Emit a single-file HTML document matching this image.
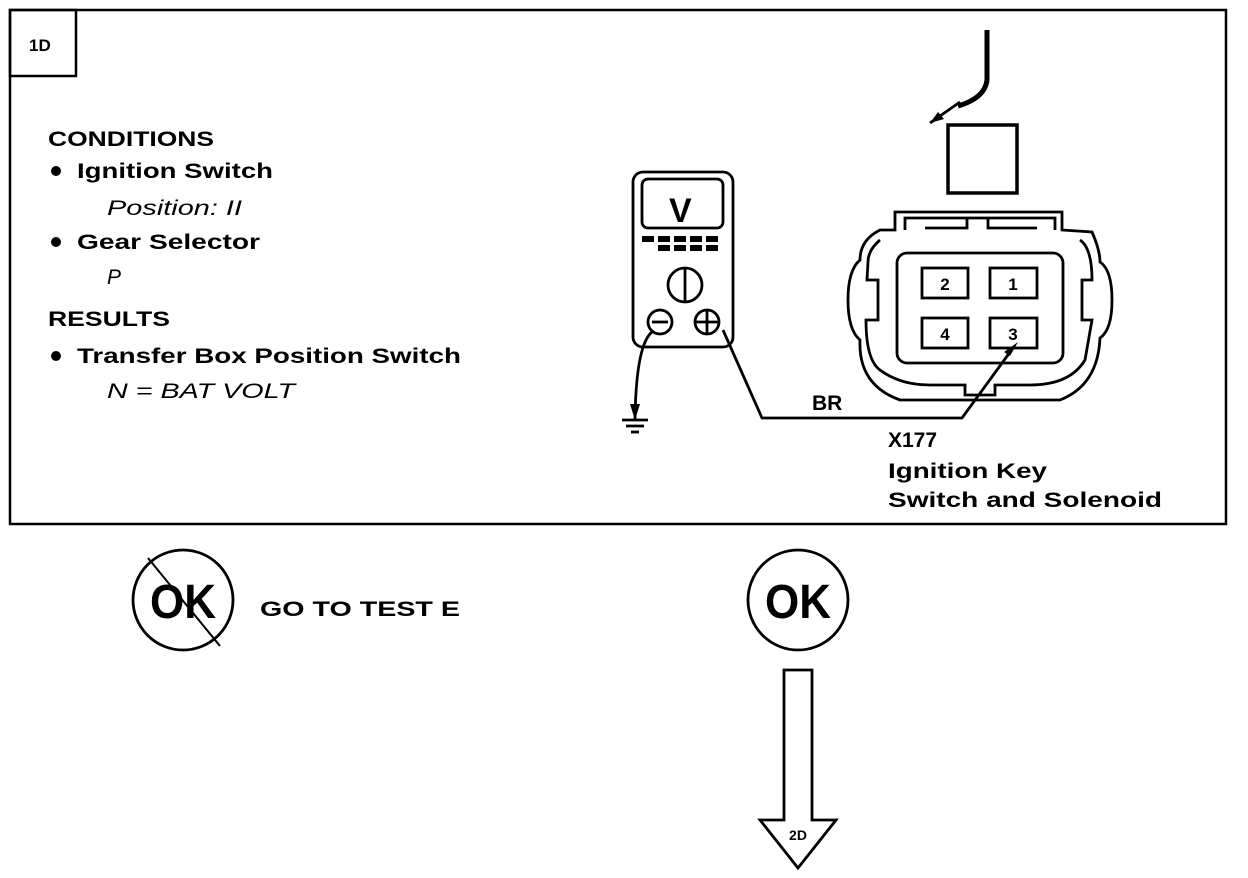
<!DOCTYPE html>
<html><head><meta charset="utf-8"><style>
html,body{margin:0;padding:0;background:#fff;}
svg{display:block;}
text{font-family:"Liberation Sans",Arial,sans-serif;fill:#000;}
</style></head><body>
<svg width="1248" height="878" viewBox="0 0 1248 878" xmlns="http://www.w3.org/2000/svg">
<g fill="none" stroke="#000" stroke-width="2.5">
<rect x="10" y="10" width="1216" height="514"/>
<rect x="10" y="10" width="66" height="66"/>
</g>
<text x="29" y="51" font-size="17" font-weight="bold">1D</text>
<g font-weight="bold" font-size="21">
<text x="48" y="146" textLength="166" lengthAdjust="spacingAndGlyphs">CONDITIONS</text>
<text x="77" y="178" textLength="196" lengthAdjust="spacingAndGlyphs">Ignition Switch</text>
<text x="77" y="249" textLength="183" lengthAdjust="spacingAndGlyphs">Gear Selector</text>
<text x="48" y="326" textLength="122" lengthAdjust="spacingAndGlyphs">RESULTS</text>
<text x="77" y="363" textLength="384" lengthAdjust="spacingAndGlyphs">Transfer Box Position Switch</text>
</g>
<g fill="#000"><circle cx="56" cy="171" r="5"/><circle cx="56" cy="242" r="5"/><circle cx="56" cy="356" r="5"/></g>
<g font-style="italic" font-size="21">
<text x="107" y="215" textLength="135" lengthAdjust="spacingAndGlyphs">Position: II</text>
<text x="107" y="284">P</text>
<text x="107" y="398" textLength="188" lengthAdjust="spacingAndGlyphs">N = BAT VOLT</text>
</g>
<g fill="none" stroke="#000" stroke-width="2.8">
<rect x="633" y="172" width="100" height="175" rx="10"/>
<rect x="642" y="179" width="81" height="49" rx="6"/>
<circle cx="685" cy="285" r="17"/>
<line x1="685" y1="268" x2="685" y2="302"/>
<circle cx="660" cy="322" r="12"/>
<line x1="652" y1="322" x2="668" y2="322"/>
<circle cx="707" cy="322" r="12"/>
<line x1="695" y1="322" x2="719" y2="322"/><line x1="707" y1="310" x2="707" y2="334"/>
<path d="M652 332 Q636 345 635 420"/>
<line x1="622" y1="420" x2="648" y2="420"/>
<line x1="626" y1="426" x2="644" y2="426"/>
<line x1="631" y1="432" x2="639" y2="432"/>
<path d="M723 330 L762 418 L962 418 L1013 348"/>
<path d="M895 212 L1062 212 L1062 230 L1092 232 Q1100 250 1100 262 Q1112 270 1112 300 Q1112 330 1100 338 Q1098 385 1060 400 L900 400 Q858 385 860 340 Q848 330 848 300 Q848 270 860 260 Q860 240 880 230 L895 230 Z"/>
<path d="M905 230 L905 218 L1055 218 L1055 230"/>
<path d="M925 228 L967 228 L967 218 M988 218 L988 228 L1037 228"/>
<path d="M880 240 Q868 250 868 262 L867 280 L878 280 L878 320 L866 320 Q866 360 880 370 Q900 385 930 385 L965 385 L965 395 L995 395 L995 385 L1030 385 Q1070 385 1085 360 L1092 320 L1082 320 L1082 280 L1092 280 Q1092 248 1080 240"/>
<rect x="897" y="253" width="166" height="110" rx="10"/>
<rect x="922" y="268" width="46" height="30"/>
<rect x="990" y="268" width="47" height="30"/>
<rect x="922" y="318" width="46" height="30"/>
<rect x="990" y="318" width="47" height="30"/>
<rect x="948" y="125" width="69" height="68" stroke-width="3.5"/>
<path d="M987 30 L987 80 Q985 98 958 106" stroke-width="5"/>
<line x1="930" y1="123" x2="960" y2="102"/>
<circle cx="183" cy="600" r="50"/>
<line x1="148" y1="558" x2="220" y2="646" stroke-width="2"/>
<circle cx="798" cy="600" r="50"/>
<path d="M784 670 L812 670 L812 820 L836 820 L798 868 L760 820 L784 820 Z"/>
</g>
<g fill="#000">
<polygon points="1018,342 1004,352 1010,356"/>
<polygon points="635,420 630,404 640,404"/>
<polygon points="930,123 938,112 944,119"/>
<g><rect x="642" y="236" width="12" height="6"/><rect x="658" y="236" width="12" height="6"/><rect x="674" y="236" width="12" height="6"/><rect x="690" y="236" width="12" height="6"/><rect x="706" y="236" width="12" height="6"/>
<rect x="658" y="245" width="12" height="6"/><rect x="674" y="245" width="12" height="6"/><rect x="690" y="245" width="12" height="6"/><rect x="706" y="245" width="12" height="6"/></g>
</g>
<text x="669" y="222" font-size="34" font-weight="bold">V</text>
<g font-size="17" font-weight="bold" text-anchor="middle">
<text x="945" y="290">2</text><text x="1013" y="290">1</text>
<text x="945" y="340">4</text><text x="1013" y="340">3</text>
</g>
<g font-weight="bold" font-size="21">
<text x="812" y="410">BR</text>
<text x="888" y="447">X177</text>
<text x="888" y="478" textLength="159" lengthAdjust="spacingAndGlyphs">Ignition Key</text>
<text x="888" y="507" textLength="274" lengthAdjust="spacingAndGlyphs">Switch and Solenoid</text>
<text x="260" y="616" textLength="200" lengthAdjust="spacingAndGlyphs">GO TO TEST E</text>
</g>
<g font-weight="bold" font-size="48" text-anchor="middle">
<text x="183" y="618" textLength="66" lengthAdjust="spacingAndGlyphs">OK</text>
<text x="798" y="618" textLength="66" lengthAdjust="spacingAndGlyphs">OK</text>
</g>
<text x="798" y="840" font-size="14" font-weight="bold" text-anchor="middle">2D</text>
</svg>
</body></html>
